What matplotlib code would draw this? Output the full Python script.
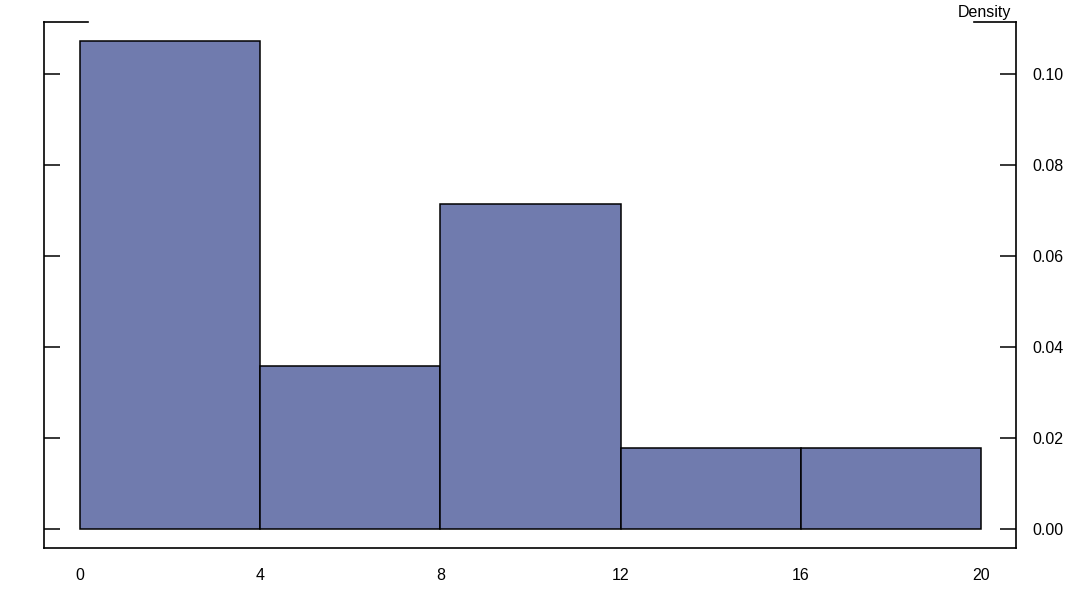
import matplotlib
matplotlib.use("Agg")
import matplotlib.pyplot as plt
from matplotlib.lines import Line2D

# Data
bin_edges = [0, 4, 8, 12, 16, 20]
counts = [6, 2, 4, 1, 1]
x_ticks = [0, 4, 8, 12, 16, 20]
y_ticks = [0.00, 0.02, 0.04, 0.06, 0.08, 0.10]
y_labels = ["0.00", "0.02", "0.04", "0.06", "0.08", "0.10"]

plt.rcParams['font.family'] = ['Liberation Sans', 'DejaVu Sans']

fig = plt.figure(figsize=(10.8, 5.94), dpi=100)
ax = fig.add_axes([44/1080, 46/594, 972/1080, 526/594])

ax.hist(bin_edges[:-1], bins=bin_edges, weights=counts, density=True,
        color='#707bae', edgecolor='black', linewidth=1.1)

ax.set_xlim(-0.80, 20.78)
ax.set_ylim(-0.00418, 0.1114)

ax.set_xticks(x_ticks)
ax.set_xticklabels([str(t) for t in x_ticks])
ax.tick_params(axis='x', length=0, pad=14.5, labelsize=11.5)

ax.set_yticks(y_ticks)
ax.set_yticklabels(y_labels)
ax.tick_params(axis='y', which='both', direction='in', length=11.5, width=1.1,
               left=True, right=True, labelleft=False, labelright=True,
               pad=11.5, labelsize=11.5)

for s in ['left', 'right', 'bottom']:
    ax.spines[s].set_linewidth(1.2)
ax.spines['top'].set_visible(False)

# partial top frame lines
ax.add_line(Line2D([0, 44/972], [1, 1], transform=ax.transAxes, color='black',
                   linewidth=1.2, clip_on=False))
ax.add_line(Line2D([930/972, 1], [1, 1], transform=ax.transAxes, color='black',
                   linewidth=1.2, clip_on=False))

fig.text(1011/1080, 1 - 12/594, "Density", ha='right', va='center', fontsize=11.5)

fig.savefig("out.png", dpi=100)
